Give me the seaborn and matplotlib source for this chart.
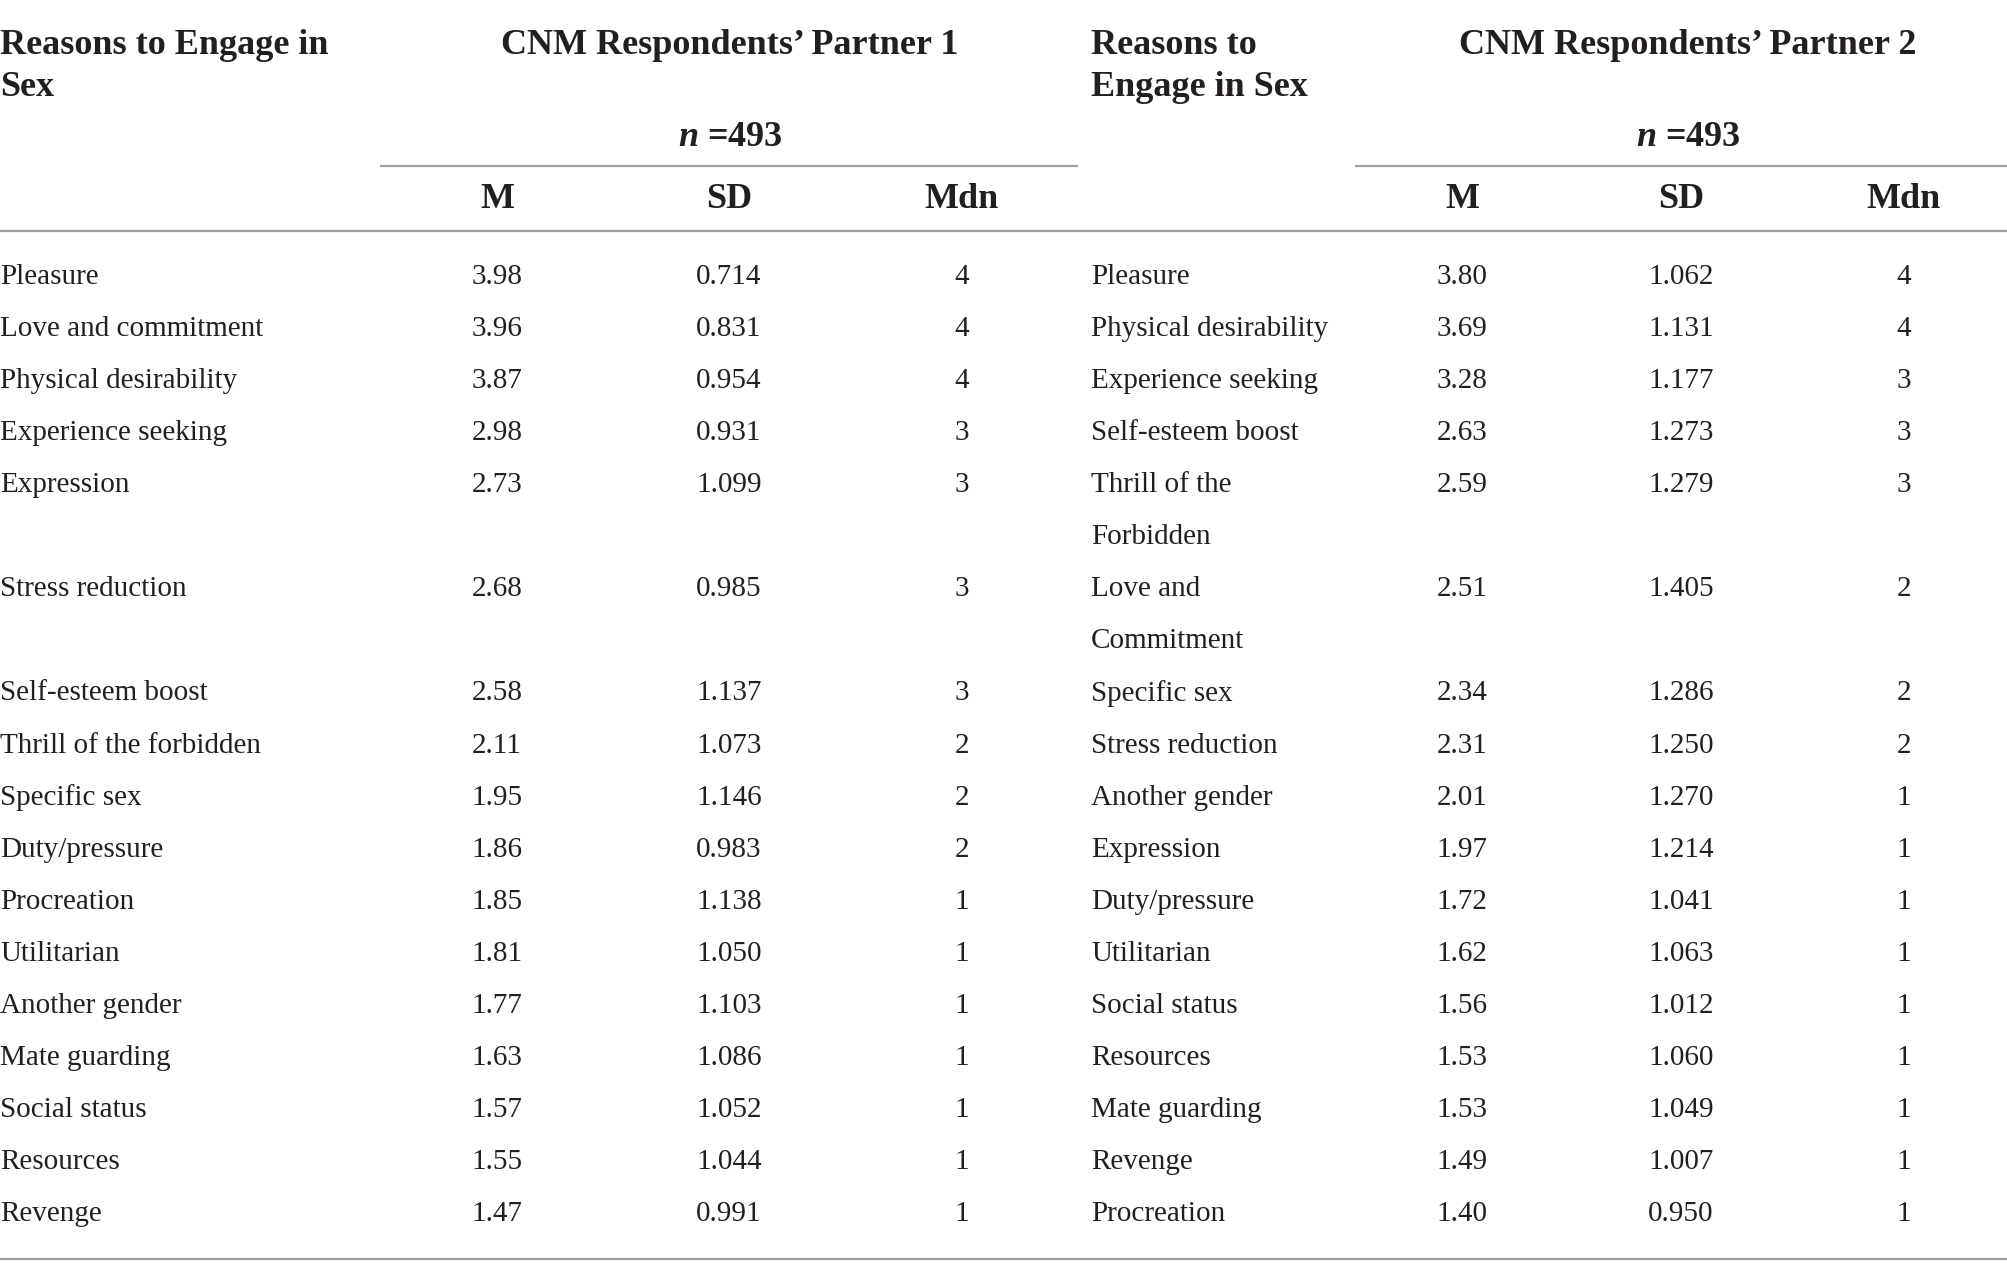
import matplotlib.pyplot as plt
import seaborn as sns

# Table data: reasons to engage in sex, CNM respondents' partners
reasons_p1 = ["Pleasure", "Love and commitment", "Physical desirability",
              "Experience seeking", "Expression", "Stress reduction",
              "Self-esteem boost", "Thrill of the forbidden", "Specific sex",
              "Duty/pressure", "Procreation", "Utilitarian", "Another gender",
              "Mate guarding", "Social status", "Resources", "Revenge"]
m_p1 = ["3.98", "3.96", "3.87", "2.98", "2.73", "2.68", "2.58", "2.11", "1.95",
        "1.86", "1.85", "1.81", "1.77", "1.63", "1.57", "1.55", "1.47"]
sd_p1 = ["0.714", "0.831", "0.954", "0.931", "1.099", "0.985", "1.137", "1.073",
         "1.146", "0.983", "1.138", "1.050", "1.103", "1.086", "1.052", "1.044",
         "0.991"]
mdn_p1 = [4, 4, 4, 3, 3, 3, 3, 2, 2, 2, 1, 1, 1, 1, 1, 1, 1]

reasons_p2 = ["Pleasure", "Physical desirability", "Experience seeking",
              "Self-esteem boost", "Thrill of the\nForbidden", "Love and\nCommitment",
              "Specific sex", "Stress reduction", "Another gender", "Expression",
              "Duty/pressure", "Utilitarian", "Social status", "Resources",
              "Mate guarding", "Revenge", "Procreation"]
m_p2 = ["3.80", "3.69", "3.28", "2.63", "2.59", "2.51", "2.34", "2.31", "2.01",
        "1.97", "1.72", "1.62", "1.56", "1.53", "1.53", "1.49", "1.40"]
sd_p2 = ["1.062", "1.131", "1.177", "1.273", "1.279", "1.405", "1.286", "1.250",
         "1.270", "1.214", "1.041", "1.063", "1.012", "1.060", "1.049", "1.007",
         "0.950"]
mdn_p2 = [4, 4, 3, 3, 3, 2, 2, 2, 1, 1, 1, 1, 1, 1, 1, 1, 1]

col_labels = ["M", "SD", "Mdn"]
n_text = "493"

sns.set_theme(style="white")
plt.rcParams["font.family"] = ["Liberation Serif", "DejaVu Serif"]
plt.rcParams["mathtext.fontset"] = "custom"
plt.rcParams["mathtext.it"] = "Liberation Serif:italic:bold"
plt.rcParams["mathtext.rm"] = "Liberation Serif:bold"

W, H = 2008, 1277
fig = plt.figure(figsize=(W / 100, H / 100), dpi=100)
ax = fig.add_axes([0, 0, 1, 1])
ax.set_xlim(0, W)
ax.set_ylim(H, 0)
ax.axis("off")

ink = "#231f20"
rule = "#a0a0a0"
head_fs = 26
body_fs = 21

first_row_y = 277
row_step = 52.06

# each table row takes as many line slots as its longest wrapped label
row_lines = [max(a.count("\n"), b.count("\n")) + 1 for a, b in zip(reasons_p1, reasons_p2)]
row_y = []
slot = 0
for nl in row_lines:
    row_y.append(first_row_y + slot * row_step)
    slot += nl

halves = [
    dict(label_x=0, head=["Reasons to Engage in", "Sex"], title="CNM Respondents\u2019 Partner 1",
         centre=730, cols=[497, 729, 962], sub=(380, 1078),
         reasons=reasons_p1, m=m_p1, sd=sd_p1, mdn=mdn_p1),
    dict(label_x=1091, head=["Reasons to", "Engage in Sex"], title="CNM Respondents\u2019 Partner 2",
         centre=1688, cols=[1462, 1681, 1904], sub=(1355, 2008),
         reasons=reasons_p2, m=m_p2, sd=sd_p2, mdn=mdn_p2),
]

for h in halves:
    ax.text(h["label_x"], 46, h["head"][0], fontsize=head_fs, fontweight="bold",
            color=ink, va="center", ha="left")
    ax.text(h["label_x"], 87, h["head"][1], fontsize=head_fs, fontweight="bold",
            color=ink, va="center", ha="left")
    ax.text(h["centre"], 46, h["title"], fontsize=head_fs, fontweight="bold",
            color=ink, va="center", ha="center")
    ax.text(h["centre"], 137, r"$n$ =" + n_text, fontsize=head_fs,
            fontweight="bold", color=ink, va="center", ha="center")
    ax.plot(h["sub"], [166, 166], color=rule, lw=1.6, solid_capstyle="butt")
    for cx, lab in zip(h["cols"], col_labels):
        ax.text(cx, 199, lab, fontsize=head_fs, fontweight="bold", color=ink,
                va="center", ha="center")

    for y, name, m, sd, md in zip(row_y, h["reasons"], h["m"], h["sd"], h["mdn"]):
        for k, line in enumerate(name.split("\n")):
            ax.text(h["label_x"], y + k * row_step, line, fontsize=body_fs,
                    color=ink, va="center", ha="left")
        for cx, val in zip(h["cols"], [m, sd, str(md)]):
            ax.text(cx, y, val, fontsize=body_fs, color=ink, va="center", ha="center")

# full-width rules
ax.plot([0, W], [231, 231], color=rule, lw=1.6, solid_capstyle="butt")
ax.plot([0, W], [1259, 1259], color=rule, lw=1.6, solid_capstyle="butt")

fig.savefig("out.png", dpi=100, facecolor="white")
